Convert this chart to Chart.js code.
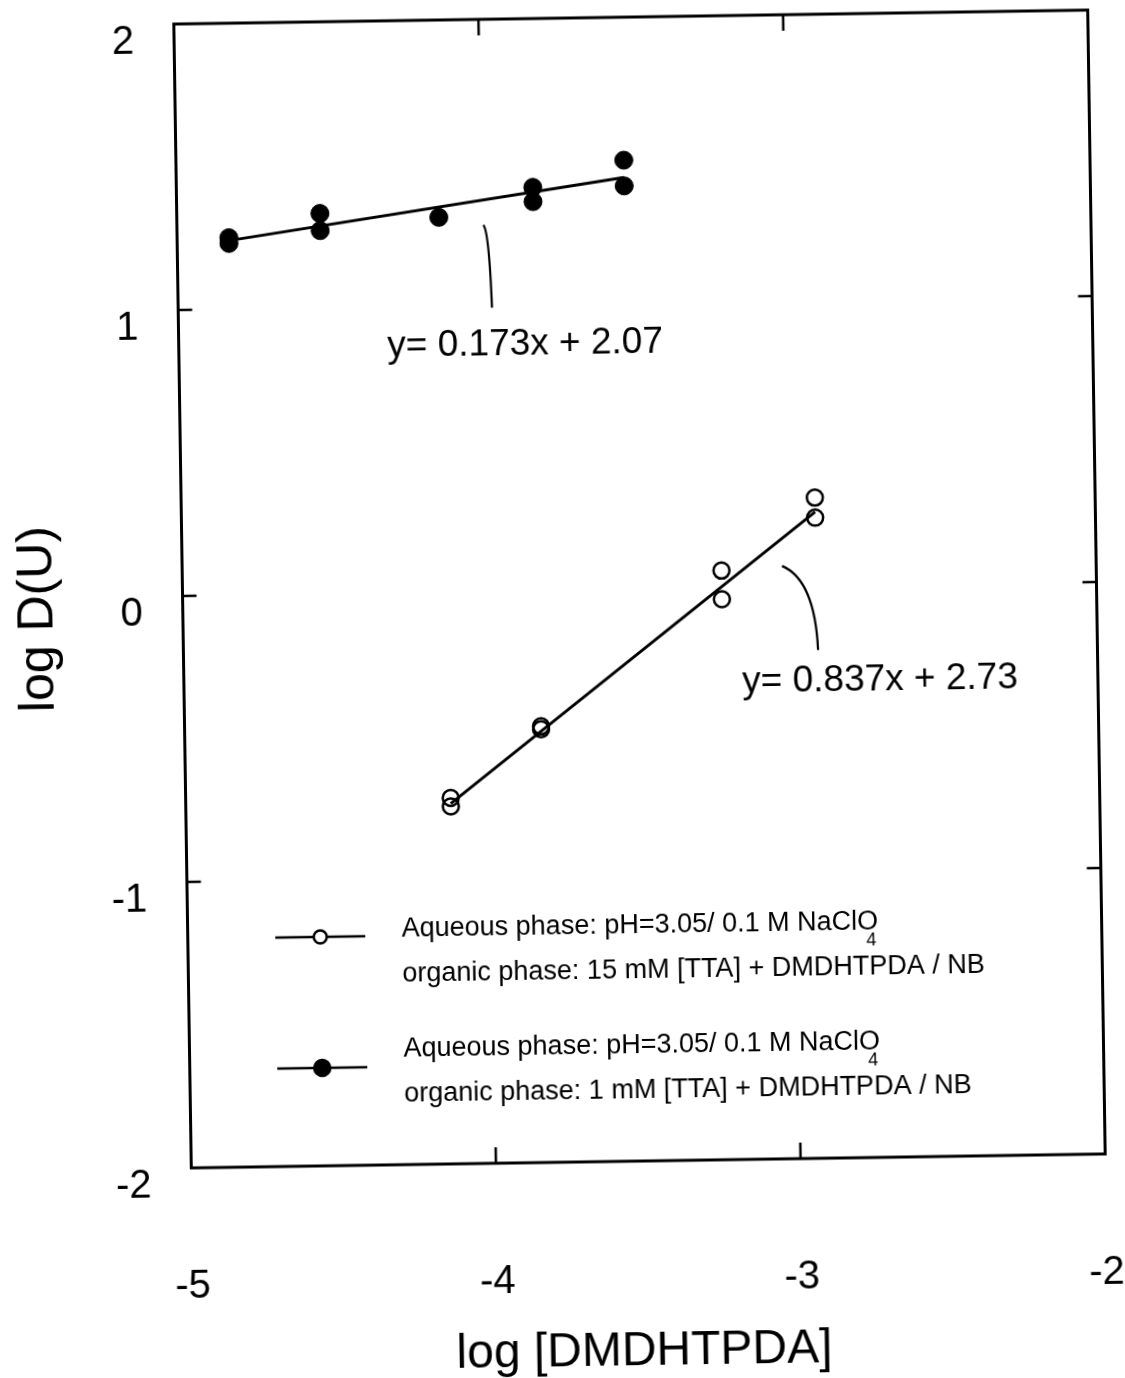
<!DOCTYPE html>
<html>
<head>
<meta charset="utf-8">
<script src="https://cdn.jsdelivr.net/npm/chart.js@4.4.1/dist/chart.umd.min.js"></script>
<style>
  html, body { margin: 0; padding: 0; background: #fff; overflow: hidden; }
  /* the scanned figure sits slightly tilted on the page */
  #wrap { width: 1125px; height: 1378px; transform: rotate(-0.875deg); transform-origin: 639.5px 589px; }
</style>
</head>
<body>
<div id="wrap"><canvas id="chart" width="1125" height="1378"></canvas></div>
<script>
// ---- data ----
const filledX = [-4.83, -4.83, -4.53, -4.53, -4.14, -3.83, -3.83, -3.53, -3.53];
const filledY = [1.25, 1.23, 1.33, 1.27, 1.31, 1.41, 1.36, 1.50, 1.41];
const openX = [-4.13, -4.13, -3.83, -3.83, -3.23, -3.23, -2.92, -2.92];
const openY = [-0.72, -0.75, -0.475, -0.485, 0.06, -0.04, 0.31, 0.24];

// fitted lines (end points as drawn)
const filledFitX = [-4.83, -3.53];
const filledFitY = [1.24, 1.44];
const openFitX = [-4.13, -2.92];
const openFitY = [-0.74, 0.26];

const xTicks = [-5, -4, -3, -2];
const yTicks = [-2, -1, 0, 1, 2];

const eqLabels = ['y= 0.173x + 2.07', 'y= 0.837x + 2.73'];
const eqPos = [[-3.863, 0.862], [-2.715, -0.333]];
// leader curves: start, control, end (data units)
const leaders = [
  [[-3.994, 1.281], [-3.976, 1.256], [-3.970, 0.991]],
  [[-3.031, 0.073], [-2.924, 0.022], [-2.917, -0.223]]
];

const legendLines = [
  ['Aqueous phase: pH=3.05/ 0.1 M NaClO', 'organic phase: 15 mM [TTA] + DMDHTPDA / NB'],
  ['Aqueous phase: pH=3.05/ 0.1 M NaClO', 'organic phase: 1 mM [TTA] + DMDHTPDA / NB']
];

const FONT = "'Liberation Sans', Arial, sans-serif";

const toPts = (xs, ys) => xs.map((v, i) => ({ x: v, y: ys[i] }));

// box + inward tick marks on all four sides
const framePlugin = {
  id: 'frame',
  afterDraw(chart) {
    const { ctx, chartArea: a, scales: { x, y } } = chart;
    ctx.save();
    ctx.strokeStyle = '#000';
    ctx.lineWidth = 3;
    ctx.strokeRect(a.left, a.top, a.right - a.left, a.bottom - a.top);
    ctx.lineWidth = 2.5;
    ctx.beginPath();
    xTicks.slice(1, -1).forEach(v => {
      const px = x.getPixelForValue(v);
      ctx.moveTo(px, a.top); ctx.lineTo(px, a.top + 16);
      ctx.moveTo(px, a.bottom); ctx.lineTo(px, a.bottom - 16);
    });
    yTicks.slice(1, -1).forEach(v => {
      const py = y.getPixelForValue(v);
      ctx.moveTo(a.left, py); ctx.lineTo(a.left + 14, py);
      ctx.moveTo(a.right, py); ctx.lineTo(a.right - 14, py);
    });
    ctx.stroke();
    ctx.restore();
  }
};

// equations with their leader curves, and the legend box inside the plot
const notesPlugin = {
  id: 'notes',
  afterDatasetsDraw(chart) {
    const { ctx, chartArea: a, scales: { x, y } } = chart;
    const P = p => [x.getPixelForValue(p[0]), y.getPixelForValue(p[1])];
    ctx.save();
    ctx.fillStyle = '#000';
    ctx.strokeStyle = '#000';

    ctx.lineWidth = 2.2;
    leaders.forEach(l => {
      const [s, c, e] = l.map(P);
      ctx.beginPath();
      ctx.moveTo(s[0], s[1]);
      ctx.quadraticCurveTo(c[0], c[1], e[0], e[1]);
      ctx.stroke();
    });

    ctx.font = `37px ${FONT}`;
    ctx.textAlign = 'center';
    ctx.textBaseline = 'middle';
    eqLabels.forEach((t, i) => {
      const [px, py] = P(eqPos[i]);
      ctx.fillText(t, px, py);
    });

    // legend
    const symX = a.left + 132.5;
    const symY = [a.top + 915, a.top + 1046];
    const txtX = a.left + 214;
    const txtY = [[a.top + 909, a.top + 954], [a.top + 1029, a.top + 1074]];
    legendLines.forEach((rows, i) => {
      ctx.lineWidth = 2.5;
      ctx.beginPath();
      ctx.moveTo(symX - 45, symY[i]); ctx.lineTo(symX + 45, symY[i]);
      ctx.stroke();
      ctx.beginPath();
      ctx.arc(symX, symY[i], i === 0 ? 6.5 : 8, 0, Math.PI * 2);
      ctx.fillStyle = i === 0 ? '#fff' : '#000';
      ctx.fill();
      ctx.stroke();
      ctx.fillStyle = '#000';
      ctx.font = `27px ${FONT}`;
      ctx.textAlign = 'left';
      ctx.textBaseline = 'middle';
      rows.forEach((t, j) => ctx.fillText(t, txtX, txtY[i][j]));
      const w = ctx.measureText(rows[0]).width;
      ctx.font = `18px ${FONT}`;
      ctx.fillText('4', txtX + w - 12, txtY[i][0] + 18);
    });
    ctx.restore();
  }
};

new Chart(document.getElementById('chart'), {
  type: 'scatter',
  data: {
    datasets: [
      {
        label: 'open fit', data: toPts(openFitX, openFitY), showLine: true,
        borderColor: '#000', borderWidth: 3, pointRadius: 0
      },
      {
        label: 'filled fit', data: toPts(filledFitX, filledFitY), showLine: true,
        borderColor: '#000', borderWidth: 3, pointRadius: 0
      },
      {
        label: '15 mM [TTA]', data: toPts(openX, openY),
        pointStyle: 'circle', pointRadius: 8, borderWidth: 2.5,
        borderColor: '#000', backgroundColor: 'rgba(0,0,0,0)'
      },
      {
        label: '1 mM [TTA]', data: toPts(filledX, filledY),
        pointStyle: 'circle', pointRadius: 9, borderWidth: 1,
        borderColor: '#000', backgroundColor: '#000'
      }
    ]
  },
  options: {
    responsive: false,
    animation: false,
    layout: { padding: { top: 17, right: 28.5, left: 0, bottom: 0 } },
    plugins: { legend: { display: false }, tooltip: { enabled: false } },
    scales: {
      x: {
        type: 'linear', min: -5, max: -2,
        afterBuildTicks: s => { s.ticks = xTicks.map(v => ({ value: v })); },
        afterFit: s => { s.height = 217; s.paddingLeft = 0; s.paddingRight = 0; },
        grid: { display: false },
        border: { display: false },
        ticks: { padding: 87, color: '#000', font: { family: FONT, size: 40 }, maxRotation: 0, autoSkip: false },
        title: {
          display: true, text: 'log [DMDHTPDA] ', color: '#000',
          font: { family: FONT, size: 48, lineHeight: 1 }, padding: { top: 0, bottom: 2 }
        }
      },
      y: {
        type: 'linear', min: -2, max: 2,
        afterBuildTicks: s => { s.ticks = yTicks.map(v => ({ value: v })); },
        afterFit: s => { s.width = 182.5; s.paddingTop = 0; s.paddingBottom = 0; },
        grid: { display: false },
        border: { display: false },
        ticks: { padding: 32, labelOffset: 18, color: '#000', font: { family: FONT, size: 40 }, autoSkip: false },
        title: {
          display: true, text: 'log D(U)   ', color: '#000',
          font: { family: FONT, size: 50, lineHeight: 1 }, padding: { top: 13, bottom: 0 }
        }
      }
    }
  },
  plugins: [framePlugin, notesPlugin]
});
</script>
</body>
</html>
